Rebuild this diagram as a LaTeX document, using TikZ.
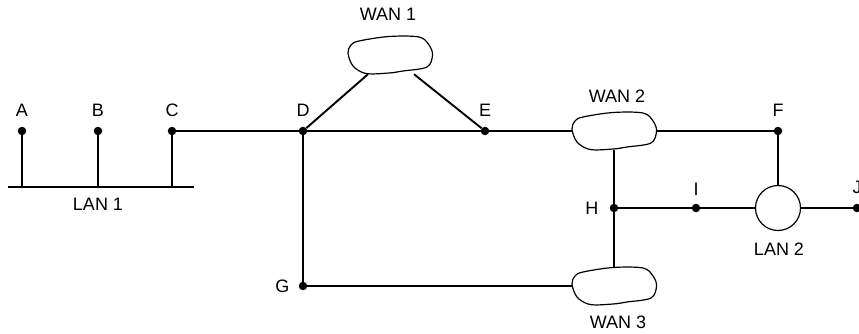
\documentclass[tikz,border=0pt]{standalone}
\usepackage{fontspec}
\setmainfont{Liberation Sans}
\begin{document}
\begin{tikzpicture}[x=1pt,y=1pt,
  every node/.style={font=\fontsize{18}{20}\selectfont, inner sep=0pt},
  every label/.style={inner sep=0pt},
  wire/.style={line width=1.9pt, black},
  dot/.style={circle, fill=black, minimum size=8.5pt, inner sep=0pt},
  blobnode/.style={rectangle, minimum width=84pt, minimum height=38pt, inner sep=0pt},
  blobline/.style={line width=1.2pt, black},
  lancircle/.style={circle, draw=black, line width=1.2pt, minimum size=45pt, inner sep=0pt},
  txt/.style={inner sep=0pt}]
\useasboundingbox (0,0) rectangle (859,333);

% LAN 1
\coordinate (busw) at (8,146);
\coordinate (buse) at (194,146);
\node[dot, label={[label distance=10pt]above:A}] (A) at (22,202) {};
\node[dot, label={[label distance=10pt]above:B}] (B) at (98,202) {};
\node[dot, label={[label distance=10pt]above:C}] (C) at (172,202) {};
\node[txt] (lan1) at (98,128.5) {LAN 1};

% main nodes
\node[dot, label={[label distance=10pt]above:D}] (D) at (303,202) {};
\node[dot, label={[label distance=10pt]above:E}] (E) at (485,202) {};
\node[dot, label={[label distance=10pt]above:F}] (F) at (778,202) {};
\node[dot, label={[label distance=9pt]left:G}] (G) at (303,47) {};
\node[dot, label={[label distance=11pt]left:H}] (H) at (614,125) {};
\node[dot, label={[label distance=8pt]above:I}] (I) at (696,125) {};
\node[dot, label={[label distance=10pt]above:J}] (J) at (857,125) {};

\node[blobnode] (wan1) at (390,278) {};
\node[blobnode] (wan2) at (614,202) {};
\node[blobnode] (wan3) at (614,47) {};
\node[lancircle] (lan2) at (778,125) {};

\node[txt] at (388,318.5) {WAN 1};
\node[txt] at (617,236.5) {WAN 2};
\node[txt] at (618,11) {WAN 3};
\node[txt] at (779,83.5) {LAN 2};

% blob outlines
\foreach \b in {wan1,wan2,wan3}{
  \draw[blobline, shift={(\b.center)}] plot[smooth cycle, tension=0.55] coordinates
    {(-42,2) (-39,10) (-31,14) (-1,18.5) (29,18) (39,10) (42.5,0) (37,-12) (13,-16) (-1,-18) (-24,-18.5) (-37,-11)};
}

% connectors
\draw[wire] (busw) -- (buse);
\draw[wire] (A) -- (A |- busw);
\draw[wire] (B) -- (B |- busw);
\draw[wire] (C) -- (C |- busw);
\draw[wire] (C) -- (D);
\draw[wire] (D) -- (E);
\draw[wire] (D) -- (wan1);
\draw[wire] (E) -- (wan1);
\draw[wire] (E) -- (wan2);
\draw[wire] (wan2) -- (F);
\draw[wire] (F) -- (lan2);
\draw[wire] (wan2) -- (H);
\draw[wire] (H) -- (wan3);
\draw[wire] (H) -- (I);
\draw[wire] (I) -- (lan2);
\draw[wire] (lan2) -- (J);
\draw[wire] (D) -- (G);
\draw[wire] (G) -- (wan3);
\end{tikzpicture}
\end{document}
